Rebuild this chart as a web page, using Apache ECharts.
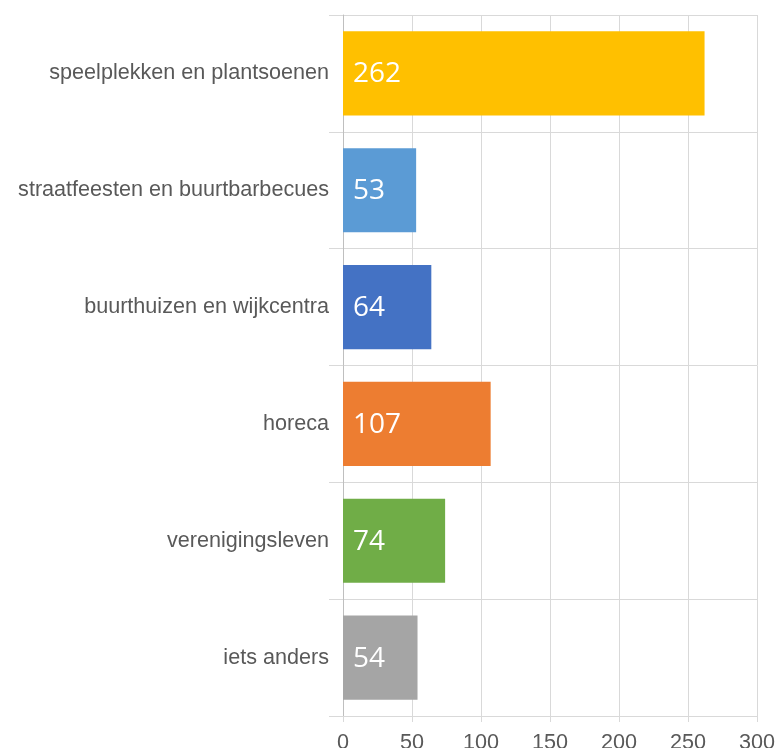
<!DOCTYPE html>
<html>
<head>
    <meta charset="UTF-8">
    <title>buurt</title>
    <script type="text/javascript" src="https://cdn.jsdelivr.net/npm/echarts@6/dist/echarts.min.js"></script>
    <style>
        html, body { margin: 0; padding: 0; background: #fff; }
        #myChart { width: 777px; height: 748px; }
    </style>
</head>
<body>
    <div id="myChart"></div>
<script>
// categorieen van boven naar beneden
var categories = ['speelplekken en plantsoenen', 'straatfeesten en buurtbarbecues', 'buurthuizen en wijkcentra', 'horeca', 'verenigingsleven', 'iets anders'];
var values = [262, 53, 64, 107, 74, 54];
var barColors = ['#FFC000', '#5B9BD5', '#4472C4', '#ED7D31', '#70AD47', '#A5A5A5'];

var chart_myChart = echarts.init(document.getElementById('myChart'), null, {renderer: 'canvas'});

var barData = [];
for (var i = 0; i < values.length; i++) {
    barData.push({
        value: values[i],
        itemStyle: { color: barColors[i] }
    });
}

var option = {
    animation: false,
    grid: {
        left: 343,
        right: 20,
        top: 15,
        bottom: 32,
        containLabel: false,
        outerBoundsMode: 'none' // labels mogen onderaan buiten beeld vallen
    },
    xAxis: {
        type: 'value',
        min: 0,
        max: 300,
        interval: 50,
        axisLine: { show: false },
        axisTick: {
            show: true,
            length: 6,
            lineStyle: { color: '#d9d9d9' }
        },
        axisLabel: {
            color: '#595959',
            fontFamily: 'Liberation Sans, Arial, sans-serif',
            fontSize: 21.6,
            margin: 16
        },
        splitLine: {
            show: true,
            lineStyle: { color: '#d9d9d9', width: 1 }
        }
    },
    yAxis: {
        type: 'category',
        inverse: true,
        data: categories,
        axisLine: {
            show: true,
            lineStyle: { color: '#bfbfbf', width: 1 }
        },
        axisTick: {
            show: true,
            length: 14,
            lineStyle: { color: '#d9d9d9' }
        },
        splitLine: {
            show: true,
            lineStyle: { color: '#d9d9d9', width: 1 }
        },
        axisLabel: {
            color: '#595959',
            fontFamily: 'Liberation Sans, Arial, sans-serif',
            fontSize: 21.6,
            margin: 14
        }
    },
    series: [{
        type: 'bar',
        data: barData,
        barCategoryGap: '28%',
        label: {
            show: true,
            position: 'insideLeft',
            offset: [0, 1],
            distance: 10,
            color: '#ffffff',
            fontFamily: 'Open Sans, sans-serif',
            fontSize: 28
        }
    }]
};

chart_myChart.setOption(option);
</script>
</body>
</html>
